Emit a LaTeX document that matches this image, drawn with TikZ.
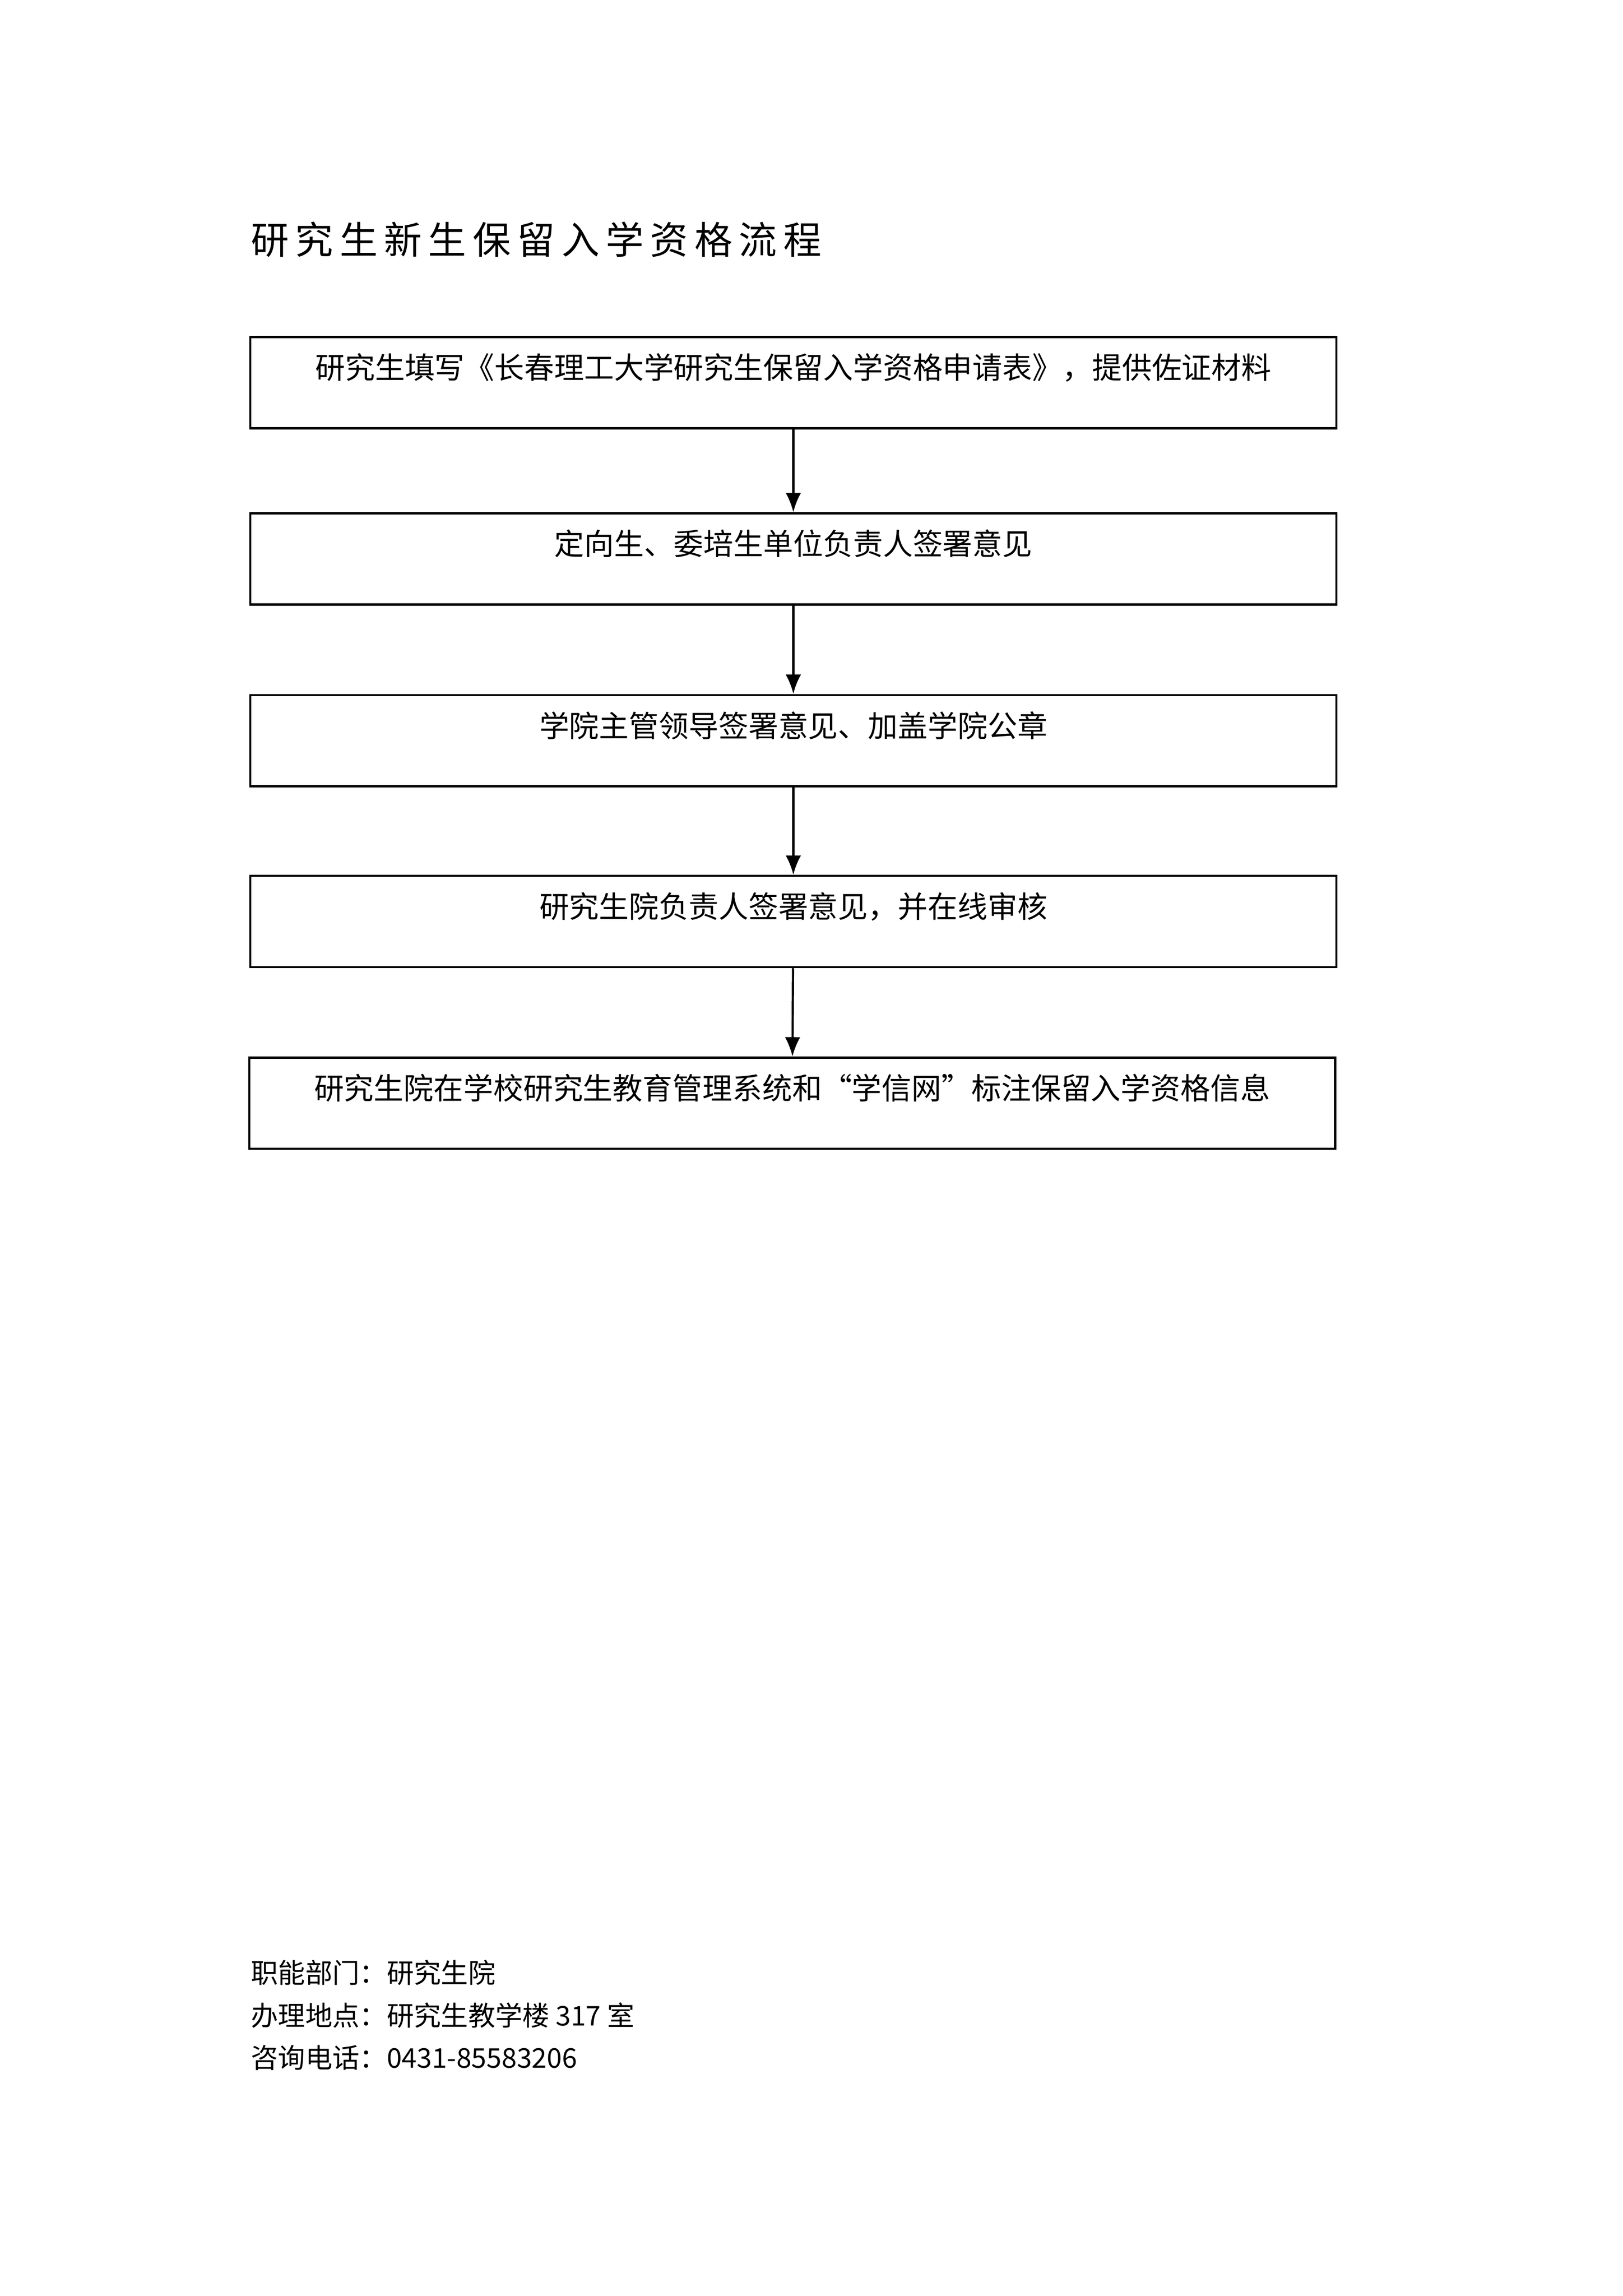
\documentclass[tikz,border=0pt]{standalone}
\usepackage{fontspec}
\setmainfont{Liberation Serif}
\newfontfamily\cjk{Noto Sans CJK SC}
\usetikzlibrary{positioning,arrows.meta}
\tikzset{
  stepbox/.style = {draw, thick, minimum width=14.05cm, minimum height=1.18cm, inner sep=0pt},
  steptxt/.style = {font=\cjk\fontsize{11pt}{13pt}\selectfont, inner sep=0pt, anchor=north},
  flow/.style = {draw, thick, -{Latex[length=2.5mm,width=2mm]}},
  foot/.style = {font=\cjk\fontsize{10pt}{12pt}\selectfont, anchor=west, inner sep=0pt}
}
\begin{document}
\begin{tikzpicture}
  \useasboundingbox (0,0) rectangle (21,-29.7);
  \node[anchor=west, inner sep=0pt, font=\cjk\fontsize{14pt}{16pt}\selectfont] (title) at (3.24,-3.1)
    {研\,究\,生\,新\,生\,保\,留\,入\,学\,资\,格\,流\,程};
  % steps
  \node[stepbox] (s1) at (10.265,-4.95) {};
  \node[stepbox] (s2) at (10.265,-7.23) {};
  \node[stepbox] (s3) at (10.265,-9.58) {};
  \node[stepbox] (s4) at (10.265,-11.92) {};
  \node[stepbox] (s5) at (10.25,-14.27) {};
  \node[steptxt, below=0.22cm of s1.north] (t1) {研究生填写《长春理工大学研究生保留入学资格申请表》，提供佐证材料};
  \node[steptxt, below=0.22cm of s2.north] (t2) {定向生、委培生单位负责人签署意见};
  \node[steptxt, below=0.22cm of s3.north] (t3) {学院主管领导签署意见、加盖学院公章};
  \node[steptxt, below=0.22cm of s4.north] (t4) {研究生院负责人签署意见，并在线审核};
  \node[steptxt, below=0.22cm of s5.north] (t5) {研究生院在学校研究生教育管理系统和“学信网”标注保留入学资格信息};

  \draw[flow] (s1) -- (s2);
  \draw[flow] (s2) -- (s3);
  \draw[flow] (s3) -- (s4);
  \draw[flow] (s4) -- (s5);

  % footer
  \node[foot] (f1) at (3.24,-25.52) {职能部门：研究生院};
  \node[foot] (f2) at (3.24,-26.07) {办理地点：研究生教学楼 317 室};
  \node[foot] (f3) at (3.24,-26.62) {咨询电话：0431-85583206};
\end{tikzpicture}
\end{document}
